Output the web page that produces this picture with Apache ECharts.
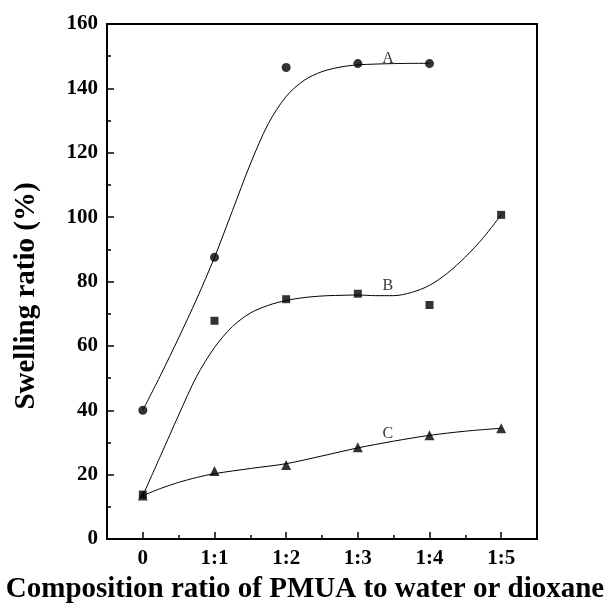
<!DOCTYPE html>
<html>
<head>
<meta charset="utf-8">
<script src="https://cdn.jsdelivr.net/npm/echarts@6/dist/echarts.min.js"></script>
<style>
  html, body { margin: 0; padding: 0; background: #fff; }
  #chart { width: 610px; height: 612px; }
</style>
</head>
<body>
<div id="chart"></div>
<script>
// Categories along the horizontal axis (PMUA : solvent ratio)
const categories = ['0', '1:1', '1:2', '1:3', '1:4', '1:5'];

// Measured swelling ratios (%) at each composition
const measuredA = [40, 87.5, 146.5, 147.7, 147.7];
const measuredB = [13.8, 67.8, 74.5, 76.2, 72.7, 100.7];
const measuredC = [13.5, 21.1, 23.0, 28.5, 32.2, 34.4];

// Fitted curves, sampled as [position, value] with position 0 = '0', 1 = '1:1', ...
const fitA = [[0, 40], [0.25, 51], [0.5, 62.5], [0.75, 74.5], [1, 87.5], [1.25, 102],
  [1.5, 116.5], [1.75, 129], [2, 137.5], [2.25, 142.5], [2.5, 145.2], [2.75, 146.6],
  [3, 147.3], [3.5, 147.7], [4, 147.8]];
const fitB = [[0, 13.5], [0.25, 26], [0.5, 38.5], [0.75, 50.5], [1, 59.5], [1.25, 66],
  [1.5, 70.2], [1.75, 72.6], [2, 74.1], [2.25, 75], [2.5, 75.5], [2.75, 75.7], [3, 75.8],
  [3.25, 75.6], [3.5, 75.6], [3.75, 76.6], [4, 78.8], [4.25, 82.6], [4.5, 87.6],
  [4.75, 93.6], [5, 100.7]];
const fitC = [[0, 13.5], [0.25, 15.7], [0.5, 17.6], [0.75, 19.1], [1, 20.3], [1.5, 21.9],
  [2, 23.4], [2.5, 25.8], [3, 28.3], [3.5, 30.4], [4, 32.2], [4.5, 33.5], [5, 34.4]];

// Curve names placed beside each fit
const curveLabels = [[3.42, 149.2, 'A'], [3.42, 78.6, 'B'], [3.42, 32.8, 'C']];

const xTitle = 'Composition ratio of PMUA to water or dioxane';
const yTitle = 'Swelling ratio (%)';

const serif = '"Liberation Serif", "DejaVu Serif", serif';
const toPairs = arr => arr.map((v, i) => [i, v]);

const chart = echarts.init(document.getElementById('chart'), null, { renderer: 'canvas' });

const fitLine = data => ({
  type: 'line', xAxisIndex: 2, data, smooth: 0.3, symbol: 'none',
  lineStyle: { color: '#000', width: 1 }, z: 2, silent: true
});
const points = (data, symbol, size) => ({
  type: 'scatter', xAxisIndex: 2, data: toPairs(data), symbol, symbolSize: size,
  itemStyle: { color: '#000' }, z: 3, silent: true
});

chart.setOption({
  animation: false,
  backgroundColor: '#fff',
  grid: {
    left: 107, right: 73, top: 24, bottom: 73,
    show: true, borderColor: '#000', borderWidth: 2, backgroundColor: 'transparent'
  },
  xAxis: [
    {
      // visible axis: labels and half-step ticks
      type: 'category', data: categories, boundaryGap: true,
      axisLine: { lineStyle: { color: '#000', width: 2 } },
      axisTick: { show: true, inside: true, length: 4, alignWithLabel: false,
        lineStyle: { color: '#000', width: 1.5 } },
      axisLabel: { color: '#000', fontFamily: serif, fontWeight: 'bold', fontSize: 21, margin: 9 },
      splitLine: { show: false }
    },
    {
      // longer ticks at each category
      type: 'category', data: categories, boundaryGap: true, position: 'bottom',
      axisLine: { show: false },
      axisTick: { show: true, inside: true, length: 7, alignWithLabel: true,
        lineStyle: { color: '#000', width: 1.5 } },
      axisLabel: { show: false }, splitLine: { show: false }
    },
    {
      // numeric axis for plotting
      type: 'value', min: -0.5, max: 5.5, show: false
    }
  ],
  yAxis: {
    type: 'value', min: 0, max: 160, interval: 20,
    axisLine: { show: true, onZero: false, lineStyle: { color: '#000', width: 2 } },
    axisTick: { show: true, inside: true, length: 7, lineStyle: { color: '#000', width: 1.5 } },
    minorTick: { show: true, splitNumber: 2, length: 4, lineStyle: { color: '#000', width: 1.5 } },
    axisLabel: { color: '#000', fontFamily: serif, fontWeight: 'bold', fontSize: 21, margin: 9 },
    splitLine: { show: false }
  },
  graphic: [
    {
      type: 'text', left: 'center', top: 575,
      style: { text: xTitle, fill: '#000', font: 'bold 29px ' + serif }
    },
    {
      type: 'text', x: 27, y: 296, rotation: Math.PI / 2,
      style: { text: yTitle, fill: '#000', font: 'bold 29px ' + serif,
        align: 'center', verticalAlign: 'middle' }
    }
  ],
  series: [
    fitLine(fitA), fitLine(fitB), fitLine(fitC),
    points(measuredA, 'circle', 9),
    points(measuredB, 'rect', 8),
    points(measuredC, 'triangle', 10),
    {
      type: 'scatter', xAxisIndex: 2, data: curveLabels, symbolSize: 0, silent: true, z: 4,
      label: {
        show: true, position: 'inside', formatter: p => p.value[2],
        color: '#000', fontFamily: serif, fontSize: 16
      }
    }
  ]
});
</script>
</body>
</html>
